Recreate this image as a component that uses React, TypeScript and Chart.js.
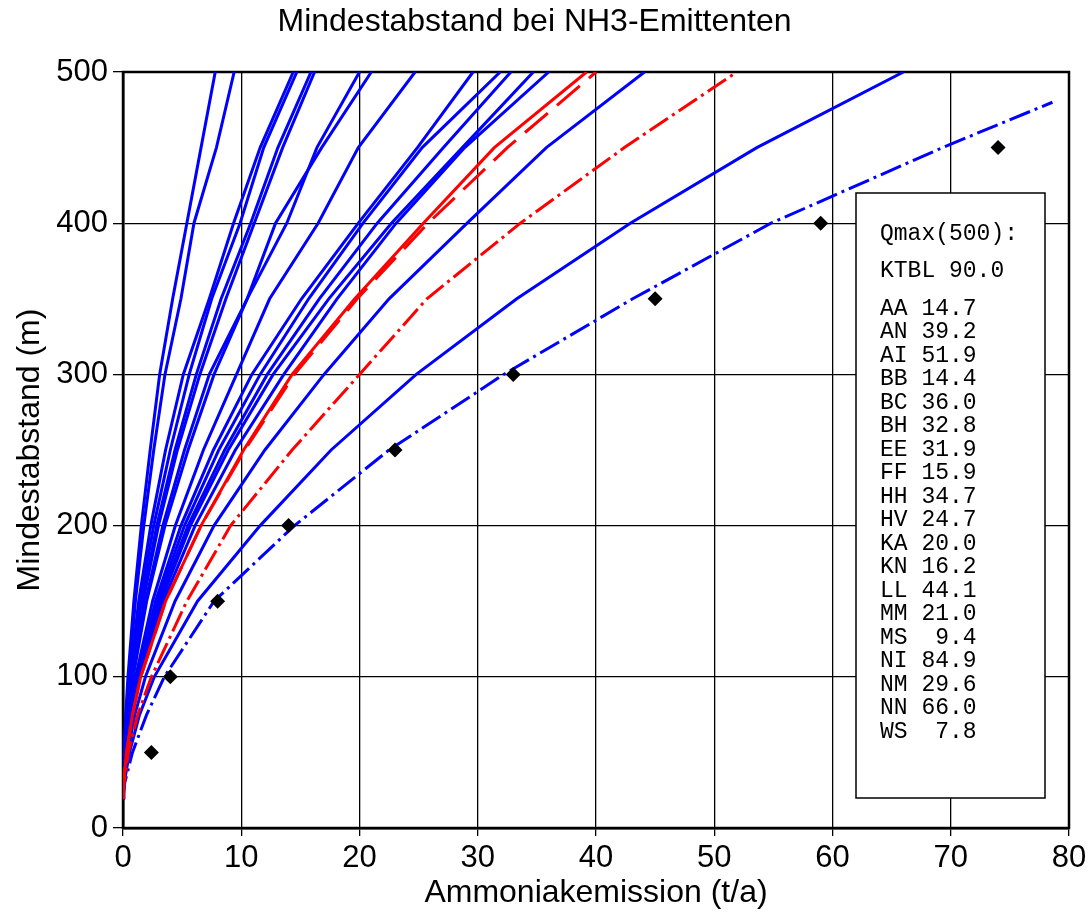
import React, { useEffect, useRef } from 'react';
import { Chart, registerables } from 'chart.js';

Chart.register(...registerables);

// Distances (m) at which each curve's emission (t/a) was read
const DIST = [20, 30, 50, 75, 100, 150, 200, 250, 300, 350, 400, 450, 500];
const DIST_NI = [20, 30, 50, 75, 100, 150, 200, 250, 300, 350, 400, 450, 480];

// Emission values (t/a) per curve, one per entry of DIST
const X_AA = [0, 0.02, 0.11, 0.32, 0.63, 1.46, 2.6, 4.0, 5.6, 7.5, 9.9, 11.9, 14.7];
const X_AN = [0, 0.05, 0.3, 0.8, 1.5, 3.6, 6.6, 10.2, 14.3, 19.6, 25.4, 31.4, 39.2];
const X_AI = [0, 0.1, 0.45, 1.25, 2.4, 5.4, 9.1, 14.3, 20.0, 25.7, 33.6, 42.4, 51.9];
const X_BB = [0, 0.02, 0.1, 0.3, 0.57, 1.33, 2.35, 3.6, 5.1, 7.3, 9.35, 11.6, 14.4];
const X_BC = [0, 0.04, 0.25, 0.73, 1.43, 3.4, 6.1, 9.5, 13.6, 18.1, 23.1, 28.9, 36.0];
const X_BH = [0, 0.03, 0.22, 0.65, 1.28, 3.05, 5.5, 8.6, 12.2, 16.6, 21.5, 27.1, 32.8];
const X_EE = [0, 0.03, 0.21, 0.62, 1.2, 2.9, 5.2, 8.1, 11.6, 15.7, 20.3, 25.3, 31.9];
const X_FF = [0, 0.02, 0.12, 0.36, 0.7, 1.62, 2.86, 4.4, 6.2, 8.3, 10.8, 13.1, 15.9];
const X_HH = [0, 0.03, 0.23, 0.68, 1.33, 3.2, 5.7, 8.9, 12.7, 17.4, 22.7, 28.7, 34.7];
const X_HV = [0, 0.03, 0.19, 0.56, 1.07, 2.5, 4.43, 6.8, 9.6, 12.4, 16.5, 19.9, 24.7];
const X_KA = [0, 0.03, 0.15, 0.45, 0.86, 2.0, 3.55, 5.5, 7.7, 10.5, 13.85, 16.4, 20.0];
const X_KN = [0, 0.02, 0.13, 0.38, 0.73, 1.7, 3.0, 4.6, 6.5, 8.7, 11.1, 13.5, 16.2];
const X_LL = [0, 0.08, 0.4, 1.0, 1.9, 4.4, 7.7, 12.0, 17.0, 22.5, 29.1, 35.8, 44.1];
const X_MM = [0, 0.03, 0.15, 0.42, 0.82, 1.9, 3.37, 5.2, 7.3, 10.5, 12.9, 16.8, 21.0];
const X_MS = [0, 0.02, 0.1, 0.27, 0.49, 1.05, 1.76, 2.6, 3.55, 4.9, 6.0, 7.9, 9.4];
const X_NI = [0, 0.15, 0.8, 2.0, 3.5, 7.7, 14.5, 22.5, 32.2, 43.1, 54.8, 69.3, 78.6];
const X_NM = [0, 0.03, 0.2, 0.58, 1.15, 2.75, 4.9, 7.65, 10.9, 15.1, 19.9, 24.9, 29.6];
const X_NN = [0, 0.1, 0.55, 1.4, 2.65, 6.3, 11.6, 17.6, 24.8, 33.3, 42.9, 53.6, 66.0];
const X_WS = [0, 0.02, 0.09, 0.23, 0.42, 0.92, 1.55, 2.3, 3.1, 4.2, 5.4, 6.6, 7.8];
const X_REF = [0, 0.05, 0.3, 0.8, 1.5, 3.6, 6.6, 10.3, 14.5, 19.8, 25.8, 32.5, 40.0];

// KTBL reference points
const KTBL_X = [2.4, 4, 8, 14, 23, 33, 45, 59, 74];
const KTBL_Y = [50, 100, 150, 200, 250, 300, 350, 400, 450];

// Legend box contents
const LEGEND_CODES = ['AA', 'AN', 'AI', 'BB', 'BC', 'BH', 'EE', 'FF', 'HH', 'HV', 'KA', 'KN', 'LL', 'MM', 'MS', 'NI', 'NM', 'NN', 'WS'];
const LEGEND_QMAX = [14.7, 39.2, 51.9, 14.4, 36.0, 32.8, 31.9, 15.9, 34.7, 24.7, 20.0, 16.2, 44.1, 21.0, 9.4, 84.9, 29.6, 66.0, 7.8];
const KTBL_QMAX = 90.0;

// Axis ticks
const X_TICKS = [0, 10, 20, 30, 40, 50, 60, 70, 80];
const Y_TICKS = [0, 100, 200, 300, 400, 500];

const TITLE = 'Mindestabstand bei NH3-Emittenten';
const X_TITLE = 'Ammoniakemission (t/a)';
const Y_TITLE = 'Mindestabstand (m)';

const BLUE = '#0000ff';
const RED = '#ff0000';
const SANS = '"Liberation Sans", Arial, sans-serif';

type Curve = { xs: number[]; ys: number[]; color: string; dash: number[]; order: number };

const CURVES: Curve[] = [
  { xs: X_WS, ys: DIST, color: BLUE, dash: [], order: 3 },
  { xs: X_MS, ys: DIST, color: BLUE, dash: [], order: 3 },
  { xs: X_BB, ys: DIST, color: BLUE, dash: [], order: 3 },
  { xs: X_AA, ys: DIST, color: BLUE, dash: [], order: 3 },
  { xs: X_FF, ys: DIST, color: BLUE, dash: [], order: 3 },
  { xs: X_KN, ys: DIST, color: BLUE, dash: [], order: 3 },
  { xs: X_KA, ys: DIST, color: BLUE, dash: [], order: 3 },
  { xs: X_MM, ys: DIST, color: BLUE, dash: [], order: 3 },
  { xs: X_HV, ys: DIST, color: BLUE, dash: [], order: 3 },
  { xs: X_NM, ys: DIST, color: BLUE, dash: [], order: 3 },
  { xs: X_EE, ys: DIST, color: BLUE, dash: [], order: 3 },
  { xs: X_BH, ys: DIST, color: BLUE, dash: [], order: 3 },
  { xs: X_HH, ys: DIST, color: BLUE, dash: [], order: 3 },
  { xs: X_BC, ys: DIST, color: BLUE, dash: [], order: 3 },
  { xs: X_LL, ys: DIST, color: BLUE, dash: [], order: 3 },
  { xs: X_NN, ys: DIST, color: BLUE, dash: [], order: 3 },
  { xs: X_NI, ys: DIST_NI, color: BLUE, dash: [22, 5, 3, 5], order: 2 },
  { xs: X_AN, ys: DIST, color: RED, dash: [], order: 1 },
  { xs: X_REF, ys: DIST, color: RED, dash: [30, 12], order: 1 },
  { xs: X_AI, ys: DIST, color: RED, dash: [22, 5, 3, 5], order: 1 },
];

const framePlugin = {
  id: 'frame',
  beforeDatasetsDraw(chart: any) {
    const { ctx, chartArea: a } = chart;
    ctx.save();
    ctx.strokeStyle = '#000';
    ctx.lineWidth = 2.5;
    ctx.strokeRect(a.left, a.top, a.right - a.left, a.bottom - a.top);
    ctx.restore();
  },
};

const qmaxBoxPlugin = {
  id: 'qmaxBox',
  afterDatasetsDraw(chart: any) {
    const ctx = chart.ctx;
    const L = 856, T = 193, R = 1045, B = 798;
    ctx.save();
    ctx.fillStyle = '#fff';
    ctx.fillRect(L, T, R - L, B - T);
    ctx.strokeStyle = '#000';
    ctx.lineWidth = 1.5;
    ctx.strokeRect(L, T, R - L, B - T);
    ctx.fillStyle = '#000';
    ctx.font = '23px "Liberation Mono", "DejaVu Sans Mono", monospace';
    ctx.textBaseline = 'middle';
    ctx.textAlign = 'left';
    ctx.fillText('Qmax(500):', 880, 234);
    ctx.fillText('KTBL ' + KTBL_QMAX.toFixed(1), 880, 271);
    LEGEND_CODES.forEach((code, i) => {
      ctx.fillText(code + ' ' + LEGEND_QMAX[i].toFixed(1).padStart(4, ' '), 880, 308.5 + i * 23.5);
    });
    ctx.restore();
  },
};

export default function App() {
  const ref = useRef<HTMLCanvasElement | null>(null);

  useEffect(() => {
    if (!ref.current) return;
    const datasets: any[] = CURVES.map((c) => ({
      data: c.xs.map((x, i) => ({ x, y: c.ys[i] })),
      showLine: true,
      borderColor: c.color,
      borderWidth: 3,
      borderDash: c.dash,
      pointRadius: 0,
      tension: 0,
      fill: false,
      order: c.order,
    }));
    datasets.push({
      data: KTBL_X.map((x, i) => ({ x, y: KTBL_Y[i] })),
      showLine: false,
      pointStyle: 'rectRot',
      pointRadius: 7.5,
      backgroundColor: '#000',
      borderColor: '#000',
      borderWidth: 0,
      order: 0,
    });

    const chart = new Chart(ref.current, {
      type: 'scatter',
      data: { datasets },
      plugins: [framePlugin, qmaxBoxPlugin],
      options: {
        animation: false,
        responsive: false,
        events: [],
        layout: { padding: { left: 0, right: 22, top: 0, bottom: 0 } },
        plugins: {
          legend: { display: false },
          tooltip: { enabled: false },
          title: {
            display: true,
            text: TITLE,
            color: '#000',
            font: { family: SANS, size: 32, weight: 'normal' },
            padding: { top: 3, bottom: 30.6 },
          },
        },
        scales: {
          x: {
            type: 'linear',
            min: X_TICKS[0],
            max: X_TICKS[X_TICKS.length - 1],
            afterBuildTicks: (s: any) => { s.ticks = X_TICKS.map((v) => ({ value: v })); },
            afterFit: (s: any) => { s.height = 85; },
            ticks: { color: '#000', font: { family: SANS, size: 31 }, padding: 4, maxRotation: 0 },
            grid: { color: '#000', lineWidth: 1.3, tickLength: 8, tickColor: '#000' },
            border: { color: '#000', width: 2.5 },
            title: { display: true, text: X_TITLE, color: '#000', font: { family: SANS, size: 32 }, padding: { top: 0, bottom: 0.8 } },
          },
          y: {
            type: 'linear',
            min: Y_TICKS[0],
            max: Y_TICKS[Y_TICKS.length - 1],
            afterBuildTicks: (s: any) => { s.ticks = Y_TICKS.map((v) => ({ value: v })); },
            afterFit: (s: any) => { s.width = 123; },
            ticks: { color: '#000', font: { family: SANS, size: 31 }, padding: 5 },
            grid: { color: '#000', lineWidth: 1.3, tickLength: 10, tickColor: '#000' },
            border: { color: '#000', width: 2.5 },
            title: { display: true, text: Y_TITLE, color: '#000', font: { family: SANS, size: 32 }, padding: { top: 10.8, bottom: 0 } },
          },
        },
      } as any,
    });
    return () => chart.destroy();
  }, []);

  return (
    <div style={{ position: 'fixed', left: 0, top: 0, width: 1091, height: 913, background: '#fff' }}>
      <canvas ref={ref} width={1091} height={913} style={{ width: 1091, height: 913, display: 'block' }} />
    </div>
  );
}
